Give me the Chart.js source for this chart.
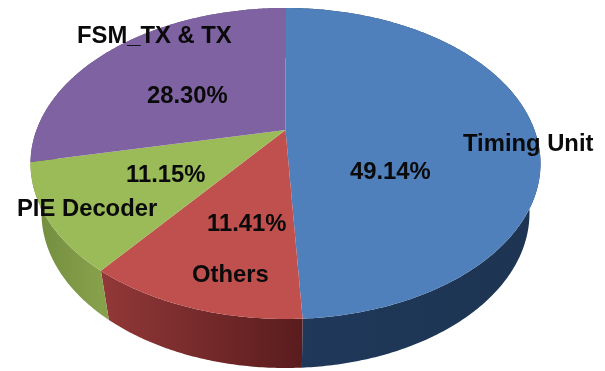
<!DOCTYPE html>
<html>
<head>
<meta charset="utf-8">
<style>
    html, body { margin: 0; padding: 0; background: #fff; }
    canvas { display: block; filter: blur(0.5px); }
</style>
<script src="https://cdn.jsdelivr.net/npm/chart.js@4"></script>
</head>
<body>
<canvas id="myChart" width="605" height="371"></canvas>
<script>
const categories = ['Timing Unit', 'Others', 'PIE Decoder', 'FSM_TX & TX']
const shares = [49.14, 11.41, 11.15, 28.30]

const topColors = ['#4f80bc', '#c0504e', '#9abb58', '#7f62a1']
// wall gradient, left to right
const wallColors = [
    ['#20385a', '#1d3552'],
    ['#923838', '#5a1c1d'],
    ['#728c40', '#86a04b'],
    ['#5f4a7a', '#5f4a7a'],
]

// where each text goes: category name then percentage
const namePos = [[463, 151], [192, 282], [17, 216], [77, 43]]
const sharePos = [[350, 179], [207, 231], [126, 182], [147, 103]]

// top face and bottom rim of the disc as seen in the picture
const top3d = { x: 285.5, y: 163.5, rx: 255, ry: 155.5 }
const bottom3d = { x: 285.5, y: 213, rx: 244, ry: 155 }
// perspective: moves the pie centre up inside the ellipse
const tilt = -0.2154

function project(angle, shape) {
    const x = Math.cos(angle)
    const y = Math.sin(angle)
    const w = 1 + tilt * y
    return {
        x: shape.x + shape.rx * x * Math.sqrt(1 - tilt * tilt) / w,
        y: shape.y + shape.ry * (y + tilt) / w,
    }
}

function rimAngles(start, end) {
    const list = []
    const n = Math.ceil((end - start) / 0.01)
    for (let i = 0; i <= n; i++) list.push(start + (end - start) * i / n)
    return list
}

// the library works out the angles from the data, only the shape is different
Chart.ArcElement.prototype.draw = function (ctx) {
    ctx.save()
    ctx.fillStyle = this.options.backgroundColor
    ctx.beginPath()
    ctx.moveTo(top3d.x, top3d.y + top3d.ry * tilt)
    rimAngles(this.startAngle, this.endAngle).forEach(a => {
        const p = project(a, top3d)
        ctx.lineTo(p.x, p.y)
    })
    ctx.closePath()
    ctx.fill()
    ctx.restore()
}

const wallPlugin = {
    id: 'wall',
    beforeDatasetsDraw(chart) {
        const ctx = chart.ctx
        chart.getDatasetMeta(0).data.forEach((arc, i) => {
            const angles = rimAngles(arc.startAngle, arc.endAngle)
            const upper = angles.map(a => project(a, top3d))
            const lower = angles.map(a => project(a, bottom3d)).reverse()
            const xs = upper.map(p => p.x)
            const grad = ctx.createLinearGradient(Math.min(...xs), 0, Math.max(...xs), 0)
            grad.addColorStop(0, wallColors[i][0])
            grad.addColorStop(1, wallColors[i][1])
            ctx.fillStyle = grad
            ctx.beginPath()
            upper.concat(lower).forEach((p, k) => {
                if (k == 0) ctx.moveTo(p.x, p.y)
                else ctx.lineTo(p.x, p.y)
            })
            ctx.closePath()
            ctx.fill()
        })
    },
    afterDatasetsDraw(chart) {
        const ctx = chart.ctx
        ctx.save()
        ctx.fillStyle = '#0a0a0a'
        ctx.font = 'bold 23.8px "Liberation Sans"'
        ctx.textAlign = 'left'
        ctx.textBaseline = 'alphabetic'
        categories.forEach((name, i) => {
            ctx.fillText(name, namePos[i][0], namePos[i][1])
            ctx.fillText(shares[i].toFixed(2) + '%', sharePos[i][0], sharePos[i][1])
        })
        ctx.restore()
    },
}

new Chart(document.getElementById('myChart'), {
    type: 'pie',
    data: {
        labels: categories,
        datasets: [{
            data: shares,
            backgroundColor: topColors,
            borderWidth: 0,
            clip: false,
        }],
    },
    options: {
        responsive: false,
        animation: false,
        plugins: {
            legend: { display: false },
            tooltip: { enabled: false },
        },
    },
    plugins: [wallPlugin],
})
</script>
</body>
</html>
